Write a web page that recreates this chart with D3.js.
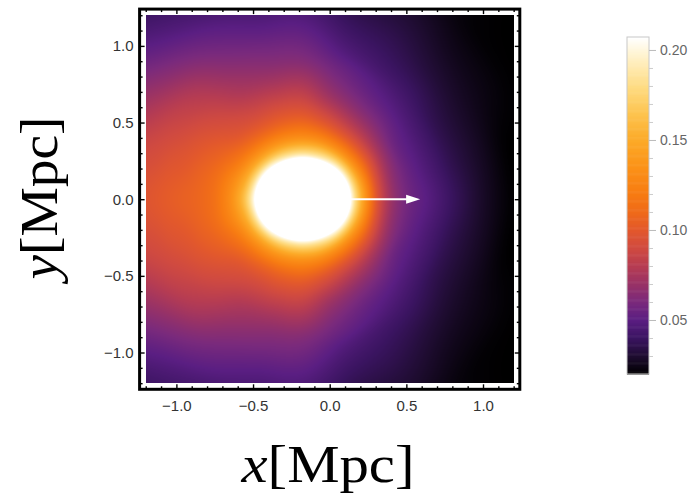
<!DOCTYPE html>
<html>
<head>
<meta charset="utf-8">
<script src="https://cdn.jsdelivr.net/npm/d3@7"></script>
<style>
  body { margin: 0; background: #fff; }
  .tick text { font-family: "Liberation Sans", Arial, sans-serif; }
</style>
</head>
<body>
<script>

var coreCenter = [-0.175, 0];
var angles = [0, 15, 30, 45, 60, 75, 90, 105, 120, 135, 150, 165, 180];
var radii  = [0, 0.15, 0.25, 0.30, 0.35, 0.40, 0.50, 0.60, 0.70, 0.80, 0.90, 1.00, 1.20, 1.40, 1.60, 1.90];

var profile000 = [.295,.282,.250,.217,.175,.141,.091,.067,.056,.050,.044,.038,.027,.020,.019,.018];
var profile015 = [.295,.282,.248,.214,.172,.139,.092,.067,.055,.048,.042,.036,.027,.020,.019,.018];
var profile030 = [.295,.281,.244,.208,.167,.135,.095,.070,.055,.048,.042,.036,.028,.023,.020,.019];
var profile045 = [.295,.279,.237,.200,.162,.132,.096,.074,.060,.051,.045,.040,.031,.025,.021,.020];
var profile060 = [.295,.277,.230,.191,.158,.131,.098,.078,.064,.055,.049,.043,.036,.030,.025,.022];
var profile075 = [.295,.276,.225,.185,.156,.132,.103,.085,.071,.062,.055,.048,.039,.032,.028,.025];
var profile090 = [.295,.275,.223,.184,.155,.133,.108,.093,.082,.072,.063,.057,.047,.040,.035,.030];
var profile105 = [.295,.276,.225,.185,.156,.134,.108,.094,.083,.073,.065,.059,.048,.041,.036,.031];
var profile120 = [.295,.277,.230,.191,.159,.136,.108,.094,.085,.077,.071,.065,.054,.044,.038,.033];
var profile135 = [.295,.279,.237,.200,.164,.139,.111,.098,.092,.087,.082,.077,.063,.051,.043,.037];
var profile150 = [.295,.281,.244,.208,.171,.144,.117,.106,.100,.095,.090,.086,.075,.065,.055,.047];
var profile165 = [.295,.282,.248,.214,.177,.150,.124,.111,.105,.100,.097,.093,.088,.082,.075,.068];
var profile180 = [.295,.282,.250,.217,.182,.155,.126,.112,.107,.104,.101,.098,.093,.088,.083,.076];
var profiles = [profile000,profile015,profile030,profile045,profile060,profile075,profile090,
                profile105,profile120,profile135,profile150,profile165,profile180];

// colour stops of the legend (SunsetColors look)
var colorStops = [0.020, 0.030, 0.040, 0.050, 0.060, 0.070, 0.080, 0.090, 0.100, 0.110, 0.120, 0.135, 0.150, 0.165, 0.180, 0.195, 0.207];
var colorHex   = ["#000000","#1e0c30","#3a1460","#5a1e82","#7a2a7c","#983266","#b63c52","#d04a40","#e2582c","#ef6a1a","#f77b12","#fb9218","#fcaa28","#fdc450","#fedc84","#fff0c4","#ffffff"];

var xMajor = [-1, -0.5, 0, 0.5, 1];
var yMajor = [-1, -0.5, 0, 0.5, 1];
var minorTicks = d3.range(-12, 13).map(function(i){ return i / 10; });
var cbMajor = [0.05, 0.10, 0.15, 0.20];
var cbMinor = d3.range(3, 21).map(function(i){ return i / 100; });
var cbRange = [0.02, 0.2072];
var plotRange = [-1.2, 1.2];

var arrowStart = [-0.17, 0];
var arrowEnd = [0.59, 0];

var width = 695, height = 497;

var x = d3.scaleLinear().domain([-1.24, 1.24]).range([139.6, 519.8]);
var y = d3.scaleLinear().domain([-1.24, 1.24]).range([389.3, 9.1]);

var color = d3.scaleLinear().domain(colorStops).range(colorHex)
              .interpolate(d3.interpolateRgb).clamp(true);

var svg = d3.select("body").append("svg")
            .attr("width", width).attr("height", height);

svg.append("rect").attr("width", width).attr("height", height).attr("fill", "#fff");

// ---- density image ----
function cr(p0, p1, p2, p3, t){
	return p1 + 0.5 * t * (p2 - p0 + t * (2*p0 - 5*p1 + 4*p2 - p3 + t * (3*(p1 - p2) + p3 - p0)));
}
function prof(k){
	if (k < 0) k = -k;
	if (k > 12) k = 24 - k;
	return profiles[k];
}
// monotone cubic along the radius
function monotone(xs, ys, xv){
	var n = xs.length;
	if (xv <= xs[0]) return ys[0];
	if (xv >= xs[n-1]) return ys[n-1];
	var k = 0;
	while (xs[k+1] < xv) k++;
	function slope(i){ return (ys[i+1] - ys[i]) / (xs[i+1] - xs[i]); }
	function tangent(i){
		if (i === 0) return slope(0);
		if (i === n - 1) return slope(n - 2);
		var d0 = slope(i - 1), d1 = slope(i);
		if (d0 * d1 <= 0) return 0;
		var h0 = xs[i] - xs[i-1], h1 = xs[i+1] - xs[i];
		var w1 = 2*h1 + h0, w2 = h1 + 2*h0;
		return (w1 + w2) / (w1 / d0 + w2 / d1);
	}
	var h = xs[k+1] - xs[k], t = (xv - xs[k]) / h;
	var m0 = tangent(k), m1 = tangent(k+1);
	var t2 = t*t, t3 = t2*t;
	return (2*t3 - 3*t2 + 1) * ys[k] + (t3 - 2*t2 + t) * h * m0 + (-2*t3 + 3*t2) * ys[k+1] + (t3 - t2) * h * m1;
}
function field(u, v){
	var dx = u - coreCenter[0], dy = Math.abs(v - coreCenter[1]);
	var r = Math.sqrt(dx*dx + dy*dy);
	var th = Math.atan2(dy, dx) * 180 / Math.PI;
	var ft = th / 15, i = Math.min(11, Math.floor(ft)), t = ft - i;
	var a = prof(i-1), b = prof(i), c = prof(i+1), d = prof(i+2);
	var vals = radii.map(function(_, m){ return cr(a[m], b[m], c[m], d[m], t); });
	return monotone(radii, vals, r);
}

var lut = d3.range(1024).map(function(k){
	return d3.rgb(color(cbRange[0] + (cbRange[1] - cbRange[0]) * k / 1023));
});

var x0 = Math.round(x(plotRange[0])), x1 = Math.round(x(plotRange[1]));
var y0 = Math.round(y(plotRange[1])), y1 = Math.round(y(plotRange[0]));
var iw = x1 - x0, ih = y1 - y0;

var canvas = document.createElement("canvas");
canvas.width = iw; canvas.height = ih;
var ctx = canvas.getContext("2d");
var img = ctx.createImageData(iw, ih);
for (var py = 0; py < ih; py++){
	var v = y.invert(y0 + py + 0.5);
	for (var px = 0; px < iw; px++){
		var u = x.invert(x0 + px + 0.5);
		var val = field(u, v);
		var k = Math.round((val - cbRange[0]) / (cbRange[1] - cbRange[0]) * 1023);
		k = Math.max(0, Math.min(1023, k));
		var c = lut[k], p = (py * iw + px) * 4;
		img.data[p] = c.r; img.data[p+1] = c.g; img.data[p+2] = c.b; img.data[p+3] = 255;
	}
}
ctx.putImageData(img, 0, 0);

svg.append("image")
   .attr("x", x0).attr("y", y0)
   .attr("width", iw).attr("height", ih)
   .attr("preserveAspectRatio", "none")
   .attr("href", canvas.toDataURL());

// ---- arrow ----
svg.append("line")
   .attr("x1", x(arrowStart[0])).attr("y1", y(arrowStart[1]))
   .attr("x2", x(arrowEnd[0]) - 12).attr("y2", y(arrowEnd[1]))
   .attr("stroke", "#fff").attr("stroke-width", 2);
var tipX = x(arrowEnd[0]), tipY = y(arrowEnd[1]);
svg.append("path")
   .attr("d", "M" + tipX + "," + tipY + "L" + (tipX - 14) + "," + (tipY - 4.5) + "L" + (tipX - 14) + "," + (tipY + 4.5) + "Z")
   .attr("fill", "#fff");

// ---- frame with ticks on all four sides ----
var fmt = function(d){ return d3.format(".1f")(d).replace("-", "\u2212"); };
var minorOnly = minorTicks.filter(function(d){ return xMajor.indexOf(d) < 0; });

function styleAxis(g){
	g.select(".domain").remove();
	g.selectAll("line").attr("stroke", "#000").attr("stroke-width", 1.4);
	g.selectAll("text").attr("fill", "#333").attr("font-size", "15px");
}

var fb = y(-1.24), ft = y(1.24), fl = x(-1.24), fr = x(1.24);

svg.append("g").attr("transform", "translate(0," + fb + ")")
   .call(d3.axisBottom(x).tickValues(xMajor).tickSize(-5).tickPadding(11).tickFormat(fmt)).call(styleAxis);
svg.append("g").attr("transform", "translate(0," + fb + ")")
   .call(d3.axisBottom(x).tickValues(minorOnly).tickSize(-3).tickFormat("")).call(styleAxis);
svg.append("g").attr("transform", "translate(0," + ft + ")")
   .call(d3.axisTop(x).tickValues(xMajor).tickSize(-5).tickFormat("")).call(styleAxis);
svg.append("g").attr("transform", "translate(0," + ft + ")")
   .call(d3.axisTop(x).tickValues(minorOnly).tickSize(-3).tickFormat("")).call(styleAxis);

svg.append("g").attr("transform", "translate(" + fl + ",0)")
   .call(d3.axisLeft(y).tickValues(yMajor).tickSize(-5).tickPadding(6).tickFormat(fmt)).call(styleAxis);
svg.append("g").attr("transform", "translate(" + fl + ",0)")
   .call(d3.axisLeft(y).tickValues(minorOnly).tickSize(-3).tickFormat("")).call(styleAxis);
svg.append("g").attr("transform", "translate(" + fr + ",0)")
   .call(d3.axisRight(y).tickValues(yMajor).tickSize(-5).tickFormat("")).call(styleAxis);
svg.append("g").attr("transform", "translate(" + fr + ",0)")
   .call(d3.axisRight(y).tickValues(minorOnly).tickSize(-3).tickFormat("")).call(styleAxis);

svg.append("rect")
   .attr("x", fl).attr("y", ft)
   .attr("width", fr - fl).attr("height", fb - ft)
   .attr("fill", "none").attr("stroke", "#000").attr("stroke-width", 3);

// ---- axis titles ----
var xTitle = svg.append("text")
   .attr("x", 328).attr("y", 482)
   .attr("text-anchor", "middle")
   .attr("font-family", "'Liberation Serif', 'Times New Roman', serif")
   .attr("font-size", "52px")
   .attr("textLength", 173).attr("lengthAdjust", "spacingAndGlyphs");
xTitle.append("tspan").attr("font-style", "italic").text("x");
xTitle.append("tspan").text("[Mpc]");

var yTitle = svg.append("text")
   .attr("transform", "translate(57,198) rotate(-90)")
   .attr("text-anchor", "middle")
   .attr("font-family", "'Liberation Serif', 'Times New Roman', serif")
   .attr("font-size", "52px")
   .attr("textLength", 163).attr("lengthAdjust", "spacingAndGlyphs");
yTitle.append("tspan").attr("font-style", "italic").text("y");
yTitle.append("tspan").text("[Mpc]");

// ---- colour bar ----
var cbX = 627, cbW = 22;
var cb = d3.scaleLinear().domain(cbRange).range([374, 37]);
var cbSteps = d3.range(cbRange[0], cbRange[1], 0.0005);

svg.append("g").selectAll("rect").data(cbSteps)
   .enter().append("rect")
   .attr("x", cbX).attr("width", cbW)
   .attr("y", function(d){ return cb(Math.min(d + 0.0005, cbRange[1])); })
   .attr("height", function(d){ return cb(d) - cb(Math.min(d + 0.0005, cbRange[1])) + 0.6; })
   .attr("fill", function(d){ return color(d + 0.00025); });

svg.append("rect")
   .attr("x", cbX).attr("y", cb(cbRange[1]))
   .attr("width", cbW).attr("height", cb(cbRange[0]) - cb(cbRange[1]))
   .attr("fill", "none").attr("stroke", "#c8c8c8").attr("stroke-width", 1);

var cbAxis = svg.append("g").attr("transform", "translate(" + (cbX + cbW) + ",0)")
   .call(d3.axisRight(cb).tickValues(cbMajor).tickSize(7).tickPadding(4).tickFormat(d3.format(".2f")));
cbAxis.select(".domain").remove();
cbAxis.selectAll("line").attr("stroke", "#bbb");
cbAxis.selectAll("text").attr("fill", "#666").attr("font-size", "14px");

var cbMinorAxis = svg.append("g").attr("transform", "translate(" + (cbX + cbW) + ",0)")
   .call(d3.axisRight(cb).tickValues(cbMinor.filter(function(d){ return cbMajor.indexOf(d) < 0; })).tickSize(4).tickFormat(""));
cbMinorAxis.select(".domain").remove();
cbMinorAxis.selectAll("line").attr("stroke", "#ccc");

</script>
</body>
</html>
